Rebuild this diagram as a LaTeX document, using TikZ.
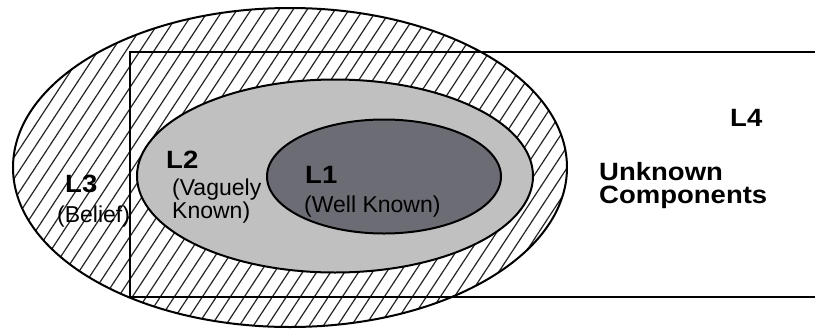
\documentclass[tikz,border=0pt]{standalone}
\usepackage{fontspec}
\newfontfamily\labfont[FakeStretch=1.0]{Liberation Sans}
\newfontfamily\boldlabfont[FakeStretch=1.1]{Liberation Sans Bold}
\definecolor{lgray}{RGB}{192,192,192}
\definecolor{dgray}{RGB}{108,108,116}
\begin{document}
\begin{tikzpicture}[x=1pt,y=-1pt,
  ring/.style={line width=2pt},
  hatchline/.style={line width=1.2pt,black!85},
  lbl/.style={inner sep=0pt,font=\boldlabfont\fontsize{25}{23}\selectfont},
  desc/.style={inner sep=0pt,align=left,font=\labfont\fontsize{23}{23}\selectfont}]
\useasboundingbox (0,0) rectangle (815,330);
% outer ellipse with hatching
\fill[white] (290,167.5) ellipse [x radius=277, y radius=159.5];
\begin{scope}
  \clip (290,167.5) ellipse [x radius=277, y radius=159.5];
  \foreach \x in {-260,-246,...,600}
    \draw[hatchline] (\x,340) -- ++(230,-350);
\end{scope}
\draw[ring] (290,167.5) ellipse [x radius=277, y radius=159.5];
% rectangle (open at the right edge)
\begin{scope}
  \clip (0,0) rectangle (815,330);
  \draw[ring] (130,52) rectangle (830,297);
\end{scope}
% L2 and L1
\draw[ring,fill=lgray] (335,176) ellipse [x radius=198, y radius=96.5];
\draw[ring,fill=dgray] (384,176.5) ellipse [x radius=117, y radius=57];
% labels
\node[lbl,anchor=base west] (l1) at (305,183) {L1};
\node[desc,anchor=base west] (l1d) at (304,212) {(Well Known)};
\node[lbl,anchor=base west] (l2) at (166,168) {L2};
\node[desc,anchor=north west] (l2d) at (172,179) {(Vaguely\\Known)};
\node[lbl,anchor=base west] (l3) at (65,192) {L3};
\node[desc,anchor=base west] (l3d) at (57,222) {(Belief)};
\node[lbl,anchor=base west] (l4) at (730,126) {L4};
\node[lbl,align=left,anchor=north west] (unk) at (599,162) {Unknown\\Components};
\end{tikzpicture}
\end{document}
